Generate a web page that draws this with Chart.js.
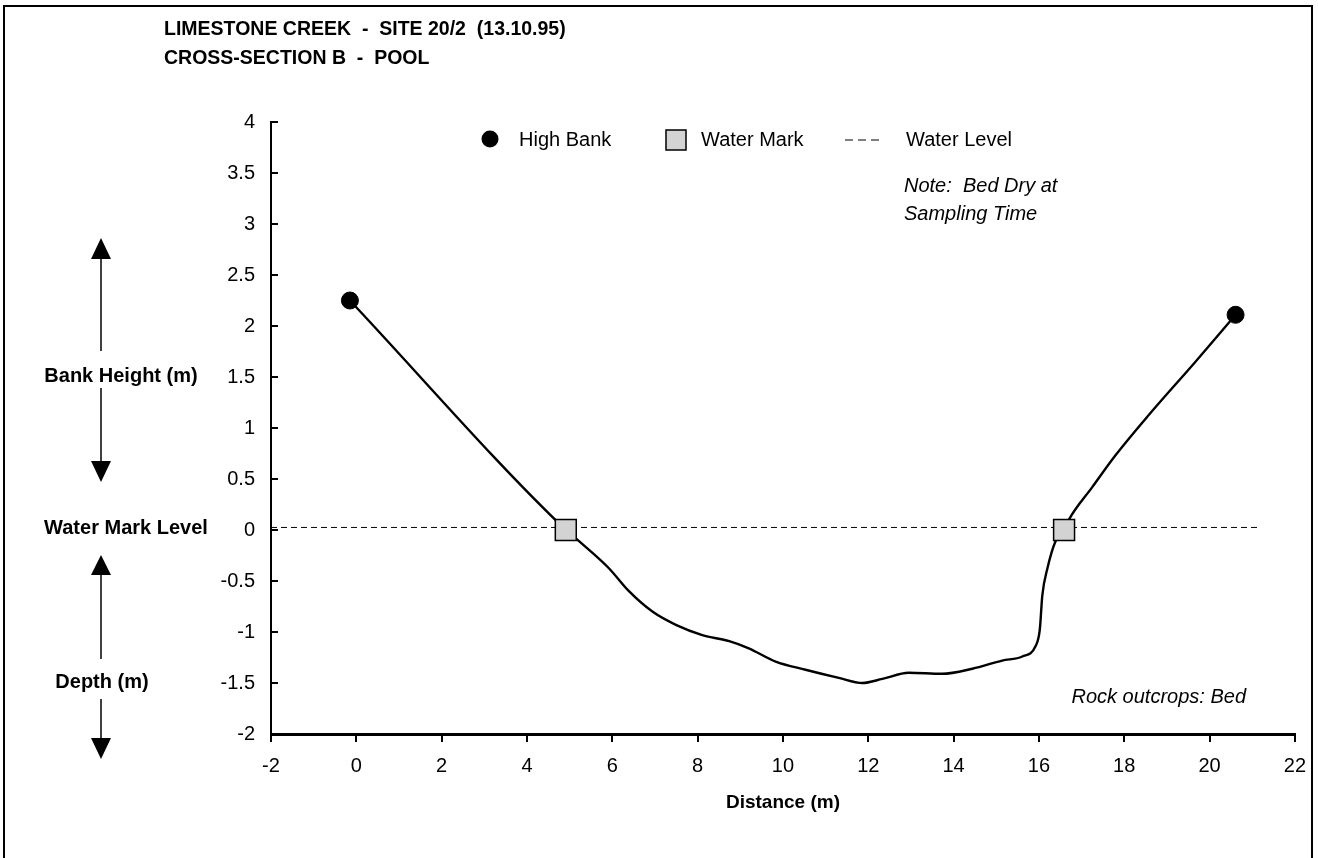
<!DOCTYPE html>
<html>
<head>
<meta charset="utf-8">
<script src="https://cdn.jsdelivr.net/npm/chart.js@4.4.1/dist/chart.umd.min.js"></script>
<style>
  body { margin: 0; background: #fff; }
  canvas { display: block; }
</style>
</head>
<body>
<canvas id="myChart" width="1318" height="858"></canvas>
<script>
// values
const highBankX = [-0.15, 20.61];
const highBankY = [2.25, 2.11];

const waterMarkX = [4.91, 16.59];
const waterMarkY = [0, 0];

const waterLevelX = [-2, 21.2];
const waterLevelY = [0.025, 0.025];

// surveyed profile, left high bank -> bed -> right high bank
const profileX = [-0.15, 4.91, 5.22, 5.92, 6.39, 6.94, 7.49, 8.11, 8.74, 9.2, 9.83, 10.53, 11.31, 11.86,
  12.33, 12.95, 13.73, 14.44, 15.14, 15.61, 15.92, 16.02, 16.08, 16.2, 16.39, 16.59, 16.7, 17.25, 17.8,
  18.58, 19.67, 20.61];
const profileY = [2.25, 0, -0.11, -0.375, -0.6, -0.8, -0.93, -1.03, -1.09, -1.16, -1.29, -1.37, -1.45, -1.5,
  -1.46, -1.4, -1.41, -1.36, -1.28, -1.24, -1.14, -0.98, -0.64, -0.375, -0.11, 0, 0.1, 0.42, 0.735,
  1.13, 1.65, 2.11];

const xTicks = [-2, 0, 2, 4, 6, 8, 10, 12, 14, 16, 18, 20, 22];
const yTicks = [-2, -1.5, -1, -0.5, 0, 0.5, 1, 1.5, 2, 2.5, 3, 3.5, 4];

const FONT = '"Liberation Sans", Arial, sans-serif';

const toPoints = (xs, ys) => xs.map((x, i) => ({ x: x, y: ys[i] }));

function arrow(ctx, x, tip, base) {
  ctx.beginPath();
  ctx.moveTo(x, tip);
  ctx.lineTo(x - 10, base);
  ctx.lineTo(x + 10, base);
  ctx.closePath();
  ctx.fill();
}

function shaft(ctx, x, y1, y2) {
  ctx.beginPath();
  ctx.moveTo(x, y1);
  ctx.lineTo(x, y2);
  ctx.stroke();
}

const decor = {
  id: 'decor',
  beforeDraw(chart) {
    const ctx = chart.ctx;
    ctx.save();
    ctx.fillStyle = '#fff';
    ctx.fillRect(0, 0, chart.width, chart.height);
    ctx.restore();
  },
  afterDraw(chart) {
    const ctx = chart.ctx;
    const ys = chart.scales.y;
    ctx.save();

    // outer frame
    ctx.strokeStyle = '#000';
    ctx.lineWidth = 2;
    ctx.strokeRect(4, 6, 1308, 900);

    // y ticks point into the plot
    ctx.lineWidth = 2;
    ys.ticks.forEach(t => {
      const py = ys.getPixelForValue(t.value);
      ctx.beginPath();
      ctx.moveTo(ys.right, py);
      ctx.lineTo(ys.right + 7, py);
      ctx.stroke();
    });

    ctx.fillStyle = '#000';
    ctx.textBaseline = 'alphabetic';

    // titles
    ctx.font = 'bold 19.5px ' + FONT;
    ctx.textAlign = 'left';
    ctx.fillText('LIMESTONE CREEK  -  SITE 20/2  (13.10.95)', 164, 35);
    ctx.fillText('CROSS-SECTION B  -  POOL', 164, 64);

    // left side labels and arrows
    ctx.textBaseline = 'middle';
    ctx.textAlign = 'center';
    ctx.font = 'bold 20px ' + FONT;
    ctx.fillText('Bank Height (m)', 121, 376);
    ctx.fillText('Water Mark Level', 126, 528);
    ctx.fillText('Depth (m)', 102, 682);

    ctx.lineWidth = 1.5;
    arrow(ctx, 101, 238, 259);
    shaft(ctx, 101, 259, 351);
    shaft(ctx, 101, 388, 462);
    arrow(ctx, 101, 482, 461);
    arrow(ctx, 101, 555, 575);
    shaft(ctx, 101, 575, 659);
    shaft(ctx, 101, 699, 739);
    arrow(ctx, 101, 759, 738);

    // legend
    ctx.textAlign = 'left';
    ctx.font = '20px ' + FONT;
    ctx.beginPath();
    ctx.arc(490, 139, 8.5, 0, Math.PI * 2);
    ctx.fill();
    ctx.fillText('High Bank', 519, 140);

    ctx.fillStyle = '#d3d3d3';
    ctx.fillRect(666, 130, 20, 20);
    ctx.lineWidth = 1.5;
    ctx.strokeRect(666, 130, 20, 20);
    ctx.fillStyle = '#000';
    ctx.fillText('Water Mark', 701, 140);

    ctx.lineWidth = 1.2;
    ctx.setLineDash([8, 5]);
    ctx.beginPath();
    ctx.moveTo(845, 140);
    ctx.lineTo(879, 140);
    ctx.stroke();
    ctx.setLineDash([]);
    ctx.fillText('Water Level', 906, 140);

    // notes
    ctx.font = 'italic 20px ' + FONT;
    ctx.fillText('Note:  Bed Dry at', 904, 186);
    ctx.fillText('Sampling Time', 904, 214);
    ctx.textAlign = 'right';
    ctx.fillText('Rock outcrops: Bed', 1246, 697);

    ctx.restore();
  }
};

const ctx = document.getElementById('myChart');
const myChart = new Chart(ctx, {
  type: 'scatter',
  data: {
    datasets: [
      {
        label: 'High Bank',
        data: toPoints(highBankX, highBankY),
        showLine: false,
        pointStyle: 'circle',
        pointRadius: 8.5,
        backgroundColor: '#000',
        borderColor: '#000',
        borderWidth: 1
      },
      {
        label: 'Water Mark',
        data: toPoints(waterMarkX, waterMarkY),
        showLine: false,
        pointStyle: 'rect',
        pointRadius: 14.8,
        backgroundColor: '#d3d3d3',
        borderColor: '#000',
        borderWidth: 1.5
      },
      {
        label: 'Profile',
        data: toPoints(profileX, profileY),
        showLine: true,
        pointRadius: 0,
        borderColor: '#000',
        borderWidth: 2.4,
        cubicInterpolationMode: 'monotone'
      },
      {
        label: 'Water Level',
        data: toPoints(waterLevelX, waterLevelY),
        showLine: true,
        pointRadius: 0,
        borderColor: '#000',
        borderWidth: 1,
        borderDash: [6, 4]
      }
    ]
  },
  options: {
    responsive: false,
    animation: false,
    layout: { padding: { top: 122, right: 22, left: 0, bottom: 0 } },
    plugins: {
      legend: { display: false },
      tooltip: { enabled: false }
    },
    scales: {
      x: {
        type: 'linear',
        min: -2,
        max: 22,
        afterBuildTicks: scale => { scale.ticks = xTicks.map(v => ({ value: v })); },
        afterFit: scale => { scale.height = 124; },
        grid: { display: true, drawOnChartArea: false, drawTicks: true, tickLength: 8, color: '#000', lineWidth: 2 },
        border: { display: true, color: '#000', width: 3 },
        ticks: { color: '#000', padding: 12, maxRotation: 0, font: { family: FONT, size: 20 }, callback: v => String(v) },
        title: {
          display: true,
          text: 'Distance (m)',
          color: '#000',
          font: { family: FONT, size: 19, weight: 'bold' },
          padding: { top: 0, bottom: 44 }
        }
      },
      y: {
        type: 'linear',
        min: -2,
        max: 4,
        afterBuildTicks: scale => { scale.ticks = yTicks.map(v => ({ value: v })); },
        afterFit: scale => { scale.width = 271; },
        grid: { display: false, drawTicks: false },
        border: { display: true, color: '#000', width: 2 },
        ticks: { color: '#000', padding: 16, font: { family: FONT, size: 20 }, callback: v => String(v) }
      }
    }
  },
  plugins: [decor]
});
</script>
</body>
</html>
